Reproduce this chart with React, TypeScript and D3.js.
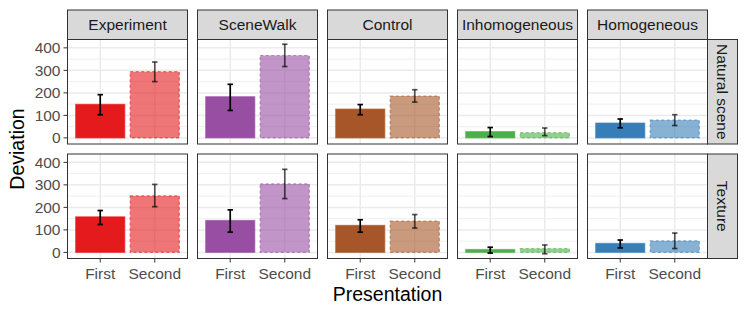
import React from 'react';
import * as d3 from 'd3';

// facet columns / rows
const methods = ['Experiment', 'SceneWalk', 'Control', 'Inhomogeneous', 'Homogeneous'];
const stimuli = ['Natural scene', 'Texture'];
const presentations = ['First', 'Second'];
const methodColors = ['#E41A1C', '#984EA3', '#A65628', '#4DAF4A', '#377EB8'];

// mean deviation per method, [First, Second]
const naturalMean = [[149, 294], [183, 366], [128, 186], [28, 23], [66, 79]];
const naturalLow = [[103, 250], [122, 317], [103, 159], [6, 10], [45, 55]];
const naturalHigh = [[192, 337], [238, 416], [148, 214], [46, 44], [84, 103]];

const textureMean = [[158, 251], [142, 304], [120, 139], [13, 17], [40, 51]];
const textureLow = [[124, 203], [90, 239], [90, 108], [-3, -6], [20, 17]];
const textureHigh = [[186, 302], [189, 369], [145, 168], [23, 33], [55, 86]];

const yTicks = [0, 100, 200, 300, 400];
const yMinor = [50, 150, 250, 350];

const W = 747;
const H = 312;
const left = 67.5;
const panelW = 120;
const gapX = 10;
const stripTop = 10;
const stripH = 29.5;
const panelH = 104.5;
const gapY = 10;
const stripRW = 30;
const font = 'Liberation Sans, Arial, sans-serif';

const means = [naturalMean, textureMean];
const lows = [naturalLow, textureLow];
const highs = [naturalHigh, textureHigh];

export default function App() {
  const allVals = [...naturalLow.flat(), ...naturalHigh.flat(), ...textureLow.flat(), ...textureHigh.flat(), 0];
  const [lo, hi] = d3.extent(allVals) as [number, number];
  const pad = (hi - lo) * 0.05;
  const y = d3.scaleLinear().domain([lo - pad, hi + pad]).range([panelH, 0]);

  // discrete x with ggplot expansion of 0.6
  const x = d3.scaleLinear().domain([0.4, 2.6]).range([0, panelW]);
  const bw = x(1.45) - x(1);
  const capW = x(1.05) - x(1);

  const rowTop = (r: number) => stripTop + stripH + r * (panelH + gapY);
  const colLeft = (c: number) => left + c * (panelW + gapX);
  const panelsRight = colLeft(methods.length - 1) + panelW;
  const bottom = rowTop(1) + panelH;

  return (
    <svg width={W} height={H} style={{ position: 'absolute', left: 0, top: 0 }} fontFamily={font}>
      <rect width={W} height={H} fill="#fff" />
      {/* column strips */}
      {methods.map((m, c) => (
        <g key={m} transform={`translate(${colLeft(c)},${stripTop})`}>
          <rect width={panelW} height={stripH} fill="#D9D9D9" stroke="#333" strokeWidth={1} />
          <text x={panelW / 2} y={stripH / 2 + 5.5} textAnchor="middle" fontSize={15.5} fill="#1A1A1A">{m}</text>
        </g>
      ))}
      {/* row strips */}
      {stimuli.map((s, r) => (
        <g key={s} transform={`translate(${panelsRight},${rowTop(r)})`}>
          <rect width={stripRW} height={panelH} fill="#D9D9D9" stroke="#333" strokeWidth={1} />
          <text transform={`translate(${stripRW / 2 - 5.5},${panelH / 2}) rotate(90)`} textAnchor="middle" fontSize={15.5} fill="#1A1A1A">{s}</text>
        </g>
      ))}
      {stimuli.map((s, r) => methods.map((m, c) => {
        const color = methodColors[c];
        return (
          <g key={s + m} transform={`translate(${colLeft(c)},${rowTop(r)})`}>
            <rect width={panelW} height={panelH} fill="#fff" />
            {yMinor.map(t => (
              <line key={'n' + t} x1={0} x2={panelW} y1={y(t)} y2={y(t)} stroke="#EBEBEB" strokeWidth={0.8} />
            ))}
            {yTicks.map(t => (
              <line key={'j' + t} x1={0} x2={panelW} y1={y(t)} y2={y(t)} stroke="#EBEBEB" strokeWidth={1.5} />
            ))}
            {presentations.map((p, i) => (
              <line key={'v' + p} x1={x(i + 1)} x2={x(i + 1)} y1={0} y2={panelH} stroke="#EBEBEB" strokeWidth={1.5} />
            ))}
            {presentations.map((p, i) => {
              const v = means[r][c][i];
              const second = i === 1;
              return (
                <rect key={'b' + p} x={x(i + 1) - bw} y={y(v)} width={bw * 2} height={y(0) - y(v)}
                  fill={color} fillOpacity={second ? 0.6 : 1}
                  stroke={color} strokeOpacity={0.6} strokeWidth={1.2}
                  strokeDasharray={second ? '3,2.5' : undefined} />
              );
            })}
            {presentations.map((p, i) => {
              const cx = x(i + 1);
              const y0 = y(lows[r][c][i]);
              const y1 = y(highs[r][c][i]);
              const op = i === 1 ? 0.65 : 1;
              return (
                <g key={'e' + p} stroke="#000" strokeOpacity={op} strokeWidth={1.7} fill="none">
                  <line x1={cx} x2={cx} y1={y0} y2={y1} />
                  <line x1={cx - capW} x2={cx + capW} y1={y0} y2={y0} />
                  <line x1={cx - capW} x2={cx + capW} y1={y1} y2={y1} />
                </g>
              );
            })}
            <rect width={panelW} height={panelH} fill="none" stroke="#333" strokeWidth={1} />
            {/* y axis on first column */}
            {c === 0 && yTicks.map(t => (
              <g key={'yt' + t}>
                <line x1={-4} x2={0} y1={y(t)} y2={y(t)} stroke="#333" strokeWidth={1} />
                <text x={-7} y={y(t) + 5.5} textAnchor="end" fontSize={15.5} fill="#4D4D4D">{t}</text>
              </g>
            ))}
            {/* x axis on bottom row */}
            {r === stimuli.length - 1 && presentations.map((p, i) => (
              <g key={'xt' + p}>
                <line x1={x(i + 1)} x2={x(i + 1)} y1={panelH} y2={panelH + 4} stroke="#333" strokeWidth={1} />
                <text x={x(i + 1)} y={panelH + 20.5} textAnchor="middle" fontSize={15.5} fill="#4D4D4D">{p}</text>
              </g>
            ))}
          </g>
        );
      }))}
      <text x={(left + panelsRight) / 2} y={bottom + 42.5} textAnchor="middle" fontSize={19.5} fill="#000">Presentation</text>
      <text transform={`translate(${23.5},${(rowTop(0) + bottom) / 2}) rotate(-90)`} textAnchor="middle" fontSize={19.5} fill="#000">Deviation</text>
    </svg>
  );
}
